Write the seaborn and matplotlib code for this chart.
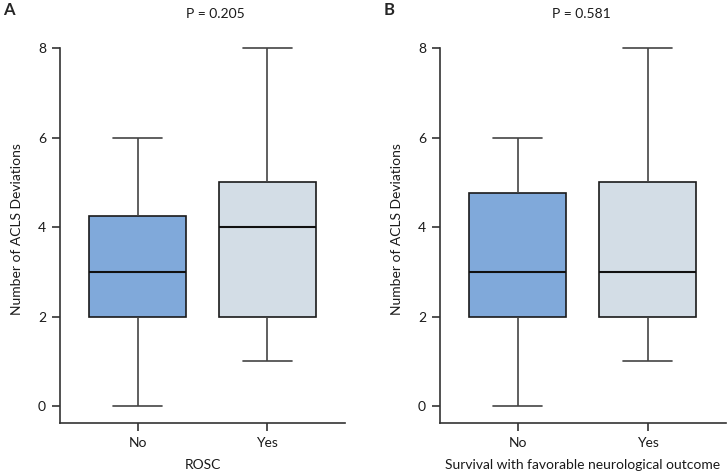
import matplotlib
matplotlib.use("Agg")
import matplotlib.pyplot as plt
import seaborn as sns
import pandas as pd

# Five-number summaries: min, Q1, median, Q3, max
groups = ["No", "Yes"]
rosc_no = [0, 2, 3, 4.25, 6]
rosc_yes = [1, 2, 4, 5, 8]
surv_no = [0, 2, 3, 4.75, 6]
surv_yes = [1, 2, 3, 5, 8]
p_values = ["P = 0.205", "P = 0.581"]
xlabels = ["ROSC", "Survival with favorable neurological outcome"]
panel_tags = ["A", "B"]
box_colors = ["#80a9da", "#d3dde6"]

sns.set_theme(style="ticks")
plt.rcParams["font.family"] = ["Lato", "DejaVu Sans"]

fig = plt.figure(figsize=(7.27, 4.73), dpi=100)
ax_a = fig.add_axes([0.0825, 0.1057, 0.392, 0.821])
ax_b = fig.add_axes([0.605, 0.1057, 0.393, 0.821])

panels = [(ax_a, rosc_no, rosc_yes), (ax_b, surv_no, surv_yes)]
for i, (ax, no_vals, yes_vals) in enumerate(panels):
    df = pd.DataFrame({
        "group": ["No"] * len(no_vals) + ["Yes"] * len(yes_vals),
        "value": no_vals + yes_vals,
    })
    sns.boxplot(data=df, x="group", y="value", hue="group", order=groups,
                palette=box_colors, saturation=1, legend=False, whis=(0, 100),
                width=0.75, linewidth=1.2, ax=ax,
                boxprops=dict(edgecolor="#1a1a1a"),
                whiskerprops=dict(color="#444444", linewidth=1.2),
                capprops=dict(color="#444444", linewidth=1.2, clip_on=False),
                medianprops=dict(color="#111111", linewidth=1.5))
    ax.set_xlim(-0.6, 1.6)
    ax.set_ylim(-0.38, 8.3)
    ax.set_yticks([0, 2, 4, 6, 8])
    ax.spines["left"].set_bounds(-0.38, 8)
    ax.spines["top"].set_visible(False)
    ax.spines["right"].set_visible(False)
    for s in ["left", "bottom"]:
        ax.spines[s].set_color("#333333")
        ax.spines[s].set_linewidth(1.2)
    ax.tick_params(axis="both", length=6, width=1.2, color="#333333",
                   labelsize=10, labelcolor="#1a1a1a", pad=4)
    ax.set_ylabel("Number of ACLS Deviations", fontsize=10, color="#1a1a1a", labelpad=11)
    ax.set_xlabel(xlabels[i], fontsize=10, color="#1a1a1a", labelpad=7)

ax_a.text(0.6, 8.76, p_values[0], ha="center", va="center", fontsize=10, color="#1a1a1a")
ax_b.text(0.49, 8.76, p_values[1], ha="center", va="center", fontsize=10, color="#1a1a1a")
fig.text(0.004, 0.978, panel_tags[0], fontsize=12, fontweight="bold", ha="left", va="center")
fig.text(0.527, 0.978, panel_tags[1], fontsize=12, fontweight="bold", ha="left", va="center")

fig.savefig("out.png", dpi=100)
